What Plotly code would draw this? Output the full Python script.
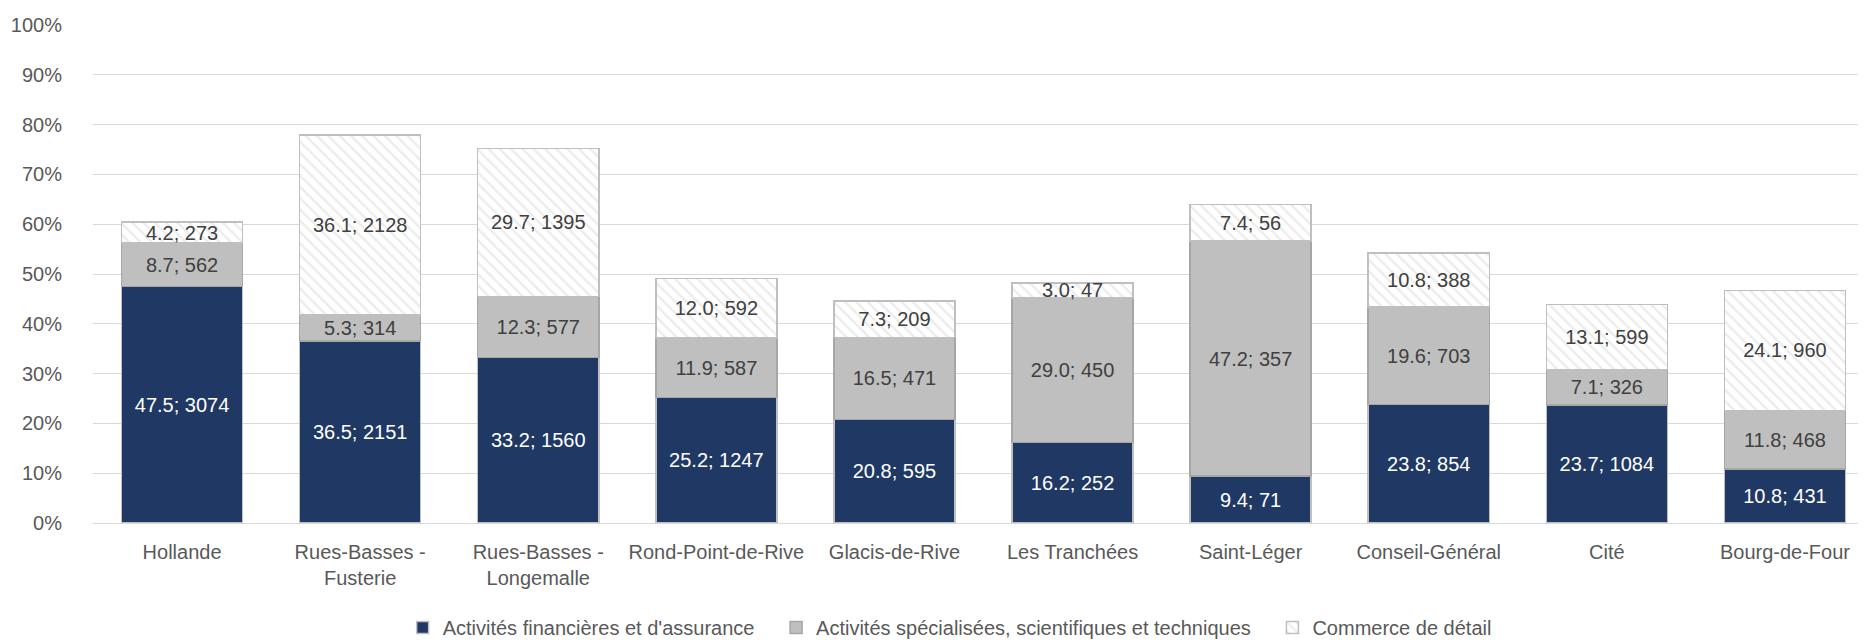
import plotly.graph_objects as go

categories = ["Hollande", "Rues-Basses -<br>Fusterie", "Rues-Basses -<br>Longemalle", "Rond-Point-de-Rive",
              "Glacis-de-Rive", "Les Tranchées", "Saint-Léger", "Conseil-Général", "Cité", "Bourg-de-Four"]

fin_pct = [47.5, 36.5, 33.2, 25.2, 20.8, 16.2, 9.4, 23.8, 23.7, 10.8]
fin_n = [3074, 2151, 1560, 1247, 595, 252, 71, 854, 1084, 431]
spe_pct = [8.7, 5.3, 12.3, 11.9, 16.5, 29.0, 47.2, 19.6, 7.1, 11.8]
spe_n = [562, 314, 577, 587, 471, 450, 357, 703, 326, 468]
com_pct = [4.2, 36.1, 29.7, 12.0, 7.3, 3.0, 7.4, 10.8, 13.1, 24.1]
com_n = [273, 2128, 1395, 592, 209, 47, 56, 388, 599, 960]

series_names = ["Activités financières et d'assurance",
                "Activités spécialisées, scientifiques et techniques",
                "Commerce de détail"]

FONT = "Liberation Sans, Arial, sans-serif"
PAD = "\u00a0" * 3

def labels(p, n):
    return [f"{a:.1f}; {b}" for a, b in zip(p, n)]

fig = go.Figure()
fig.add_trace(go.Bar(
    x=categories, y=fin_pct, name=series_names[0] + PAD,
    text=labels(fin_pct, fin_n), textposition="inside", insidetextanchor="middle",
    textangle=0, textfont=dict(color="white", size=20, family=FONT),
    marker=dict(color="#203864", line=dict(color="#BFBFBF", width=1.5)),
))
fig.add_trace(go.Bar(
    x=categories, y=spe_pct, name=series_names[1] + PAD,
    text=labels(spe_pct, spe_n), textposition="inside", insidetextanchor="middle",
    textangle=0, textfont=dict(color="#404040", size=20, family=FONT),
    marker=dict(color="#BFBFBF", line=dict(color="#A6A6A6", width=1.5)),
))
fig.add_trace(go.Bar(
    x=categories, y=com_pct, name=series_names[2],
    text=labels(com_pct, com_n), textposition="inside", insidetextanchor="middle",
    textangle=0, textfont=dict(color="#404040", size=20, family=FONT),
    marker=dict(color="white", line=dict(color="#BFBFBF", width=1.5),
                pattern=dict(shape="\\", fgcolor="#D9D9D9", bgcolor="white", size=8, solidity=0.3)),
))

fig.update_layout(
    barmode="stack", bargap=0.32,
    width=1866, height=640,
    margin=dict(l=85, r=0, t=17, b=125),
    paper_bgcolor="white", plot_bgcolor="white",
    font=dict(family=FONT, size=20, color="#595959"),
    uniformtext=dict(minsize=20, mode="show"),
    showlegend=True,
    legend=dict(orientation="h", x=0.481, xanchor="center", y=-0.21, yanchor="middle",
                font=dict(size=20, color="#595959", family=FONT), traceorder="normal"),
)
fig.update_yaxes(range=[0, 100], dtick=10, ticksuffix="%", showgrid=True, gridcolor="#D9D9D9",
                 gridwidth=1.3, zeroline=False, showline=False, tickfont=dict(size=20, color="#595959"),
                 ticks="outside", ticklen=26, tickcolor="rgba(0,0,0,0)")
fig.update_xaxes(showline=True, linecolor="#D9D9D9", linewidth=1.3, tickfont=dict(size=20, color="#595959"),
                 ticks="outside", ticklen=11, tickcolor="rgba(0,0,0,0)")

fig.write_html("out.html")
